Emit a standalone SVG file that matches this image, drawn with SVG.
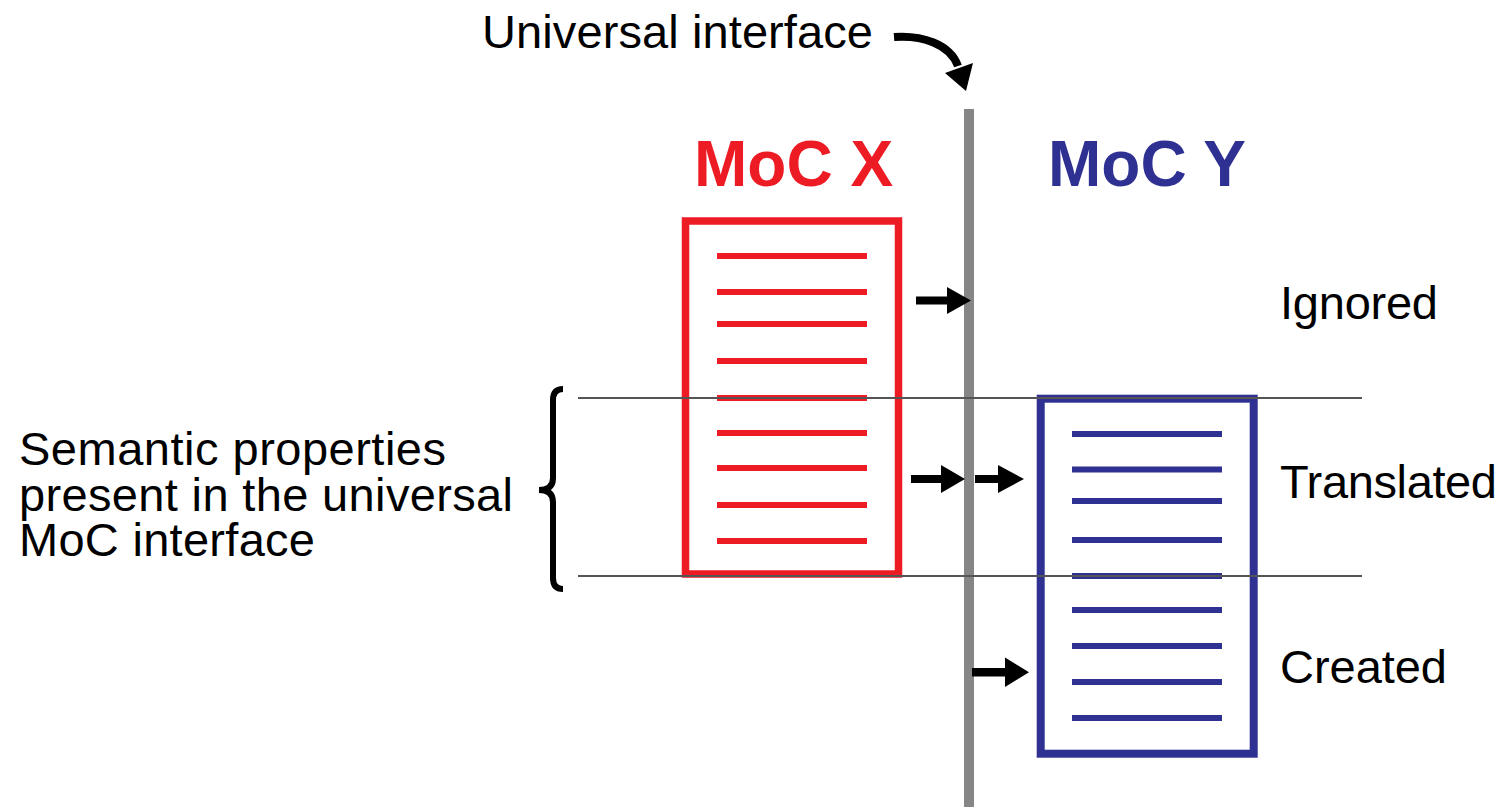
<svg xmlns="http://www.w3.org/2000/svg" width="1502" height="807" viewBox="0 0 1502 807">
<style>
  .t { font-family: "Liberation Sans", Arial, sans-serif; font-size: 47px; fill: #000; }
  .h { font-family: "Liberation Sans", Arial, sans-serif; font-size: 64px; font-weight: bold; }
  .rl { stroke: #ED1C24; stroke-width: 6; }
  .bl { stroke: #2E3192; stroke-width: 6; }
  .arr { fill: #000; }
  .sep { stroke: #555; stroke-width: 2; }
</style>
<rect width="1502" height="807" fill="#fff"/>

<g id="label-universal-interface">
  <text class="t" x="482" y="48" textLength="391" lengthAdjust="spacing">Universal interface</text>
</g>

<g id="interface-bar">
  <rect x="964" y="109" width="10" height="698" fill="#868686"/>
</g>

<g id="moc-x">
  <text class="h" x="694" y="186" fill="#ED1C24">MoC X</text>
  <rect x="685.5" y="221" width="213" height="353" fill="none" stroke="#ED1C24" stroke-width="7.5"/>
  <line class="rl" x1="717" y1="256" x2="867" y2="256"/>
  <line class="rl" x1="717" y1="292" x2="867" y2="292"/>
  <line class="rl" x1="717" y1="324" x2="867" y2="324"/>
  <line class="rl" x1="717" y1="361" x2="867" y2="361"/>
  <line class="rl" x1="717" y1="398" x2="867" y2="398"/>
  <line class="rl" x1="717" y1="433" x2="867" y2="433"/>
  <line class="rl" x1="717" y1="468" x2="867" y2="468"/>
  <line class="rl" x1="717" y1="505" x2="867" y2="505"/>
  <line class="rl" x1="717" y1="541" x2="867" y2="541"/>
</g>

<g id="moc-y">
  <text class="h" x="1048" y="186" fill="#2E3192">MoC Y</text>
  <rect x="1040.7" y="398.7" width="213" height="355" fill="none" stroke="#2E3192" stroke-width="8"/>
  <line class="bl" x1="1072" y1="434" x2="1222" y2="434"/>
  <line class="bl" x1="1072" y1="469.5" x2="1222" y2="469.5"/>
  <line class="bl" x1="1072" y1="501" x2="1222" y2="501"/>
  <line class="bl" x1="1072" y1="540" x2="1222" y2="540"/>
  <line class="bl" x1="1072" y1="576" x2="1222" y2="576"/>
  <line class="bl" x1="1072" y1="610" x2="1222" y2="610"/>
  <line class="bl" x1="1072" y1="646" x2="1222" y2="646"/>
  <line class="bl" x1="1072" y1="682" x2="1222" y2="682"/>
  <line class="bl" x1="1072" y1="718" x2="1222" y2="718"/>
</g>

<g id="separators">
  <line class="sep" x1="578" y1="398" x2="1362" y2="398"/>
  <line class="sep" x1="578" y1="576" x2="1362" y2="576"/>
</g>

<g id="brace">
  <path d="M563,389 Q553,389 553,400 L553,478 Q553,490 539,490 Q553,490 553,502 L553,578 Q553,589 563,589" fill="none" stroke="#000" stroke-width="6"/>
</g>

<g id="label-semantic">
  <text class="t" x="19" y="465" textLength="427" lengthAdjust="spacing">Semantic properties</text>
  <text class="t" x="19" y="510.5" textLength="494" lengthAdjust="spacing">present in the universal</text>
  <text class="t" x="19" y="556" textLength="296" lengthAdjust="spacing">MoC interface</text>
</g>

<g id="label-ignored"><text class="t" x="1280" y="319" textLength="158" lengthAdjust="spacing">Ignored</text></g>
<g id="label-translated"><text class="t" x="1280" y="498" textLength="217" lengthAdjust="spacing">Translated</text></g>
<g id="label-created"><text class="t" x="1280" y="683" textLength="167" lengthAdjust="spacing">Created</text></g>

<g id="connectors">
  <path d="M894,37 C922,35 950,44 958,66" fill="none" stroke="#000" stroke-width="8"/>
  <polygon class="arr" points="945,73 973,63 966,91"/>
  <path class="arr" d="M916,296.5 H947 V287 L971,300.5 L947,314 V304.5 H916 Z"/>
  <path class="arr" d="M911,475 H941 V465 L965,479 L941,493 V483 H911 Z"/>
  <path class="arr" d="M975,475 H998 V465 L1024,479 L998,493 V483 H975 Z"/>
  <path class="arr" d="M972,668 H1005 V657.5 L1029,672.3 L1005,687 V676.5 H972 Z"/>
</g>
</svg>
